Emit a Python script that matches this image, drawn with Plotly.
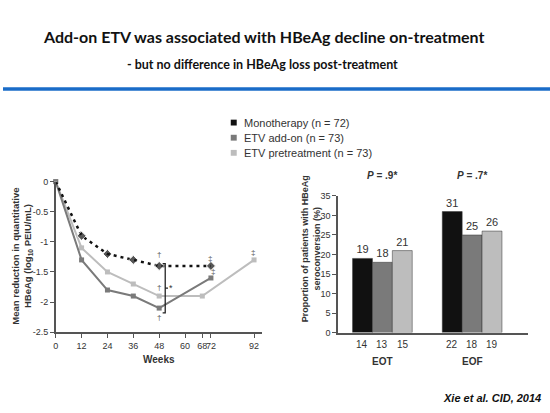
import plotly.graph_objects as go

# ---------------- data ----------------
weeks_mono = [0, 12, 24, 36, 48, 72]
mono = [0, -0.9, -1.2, -1.3, -1.4, -1.4]
weeks_add = [0, 12, 24, 36, 48, 72]
addon = [0, -1.3, -1.8, -1.9, -2.1, -1.6]
weeks_pre = [0, 12, 24, 36, 48, 68, 92]
pre = [0, -1.1, -1.5, -1.7, -1.9, -1.9, -1.3]

series_names = ["Monotherapy (n = 72)", "ETV add-on (n = 73)", "ETV pretreatment (n = 73)"]
x_ticks = [0, 12, 24, 36, 48, 60, 68, 72, 92]
y_ticks = [0, -0.5, -1, -1.5, -2, -2.5]
y_tick_text = ["0", "-0.5", "-1", "-1.5", "-2", "-2.5"]

groups = ["EOT", "EOF"]
bar_mono = [19, 31]
bar_add = [18, 25]
bar_pre = [21, 26]
n_mono = [14, 22]
n_add = [13, 18]
n_pre = [15, 19]
p_labels = ["<i>P</i> = .9*", "<i>P</i> = .7*"]
bar_ticks = [0, 5, 10, 15, 20, 25, 30, 35]

# ---------------- styling ----------------
W, H = 550, 413
C_MONO, C_ADD, C_PRE = "#111111", "#7a7a7a", "#bdbdbd"
COLORS = [C_MONO, C_ADD, C_PRE]
FONT = "Liberation Sans"
TXT = "#333333"


def px(x):
    return x / W


def py(y):
    return 1 - y / H


def note(x, y, text, size=10, color=TXT, family=FONT, xref="paper", yref="paper", **kw):
    d = dict(x=x, y=y, xref=xref, yref=yref, text=text, showarrow=False,
             xanchor=kw.pop("xanchor", "center"), yanchor=kw.pop("yanchor", "middle"),
             font=dict(size=size, color=color, family=family))
    d.update(kw)
    return d


fig = go.Figure()

# left chart lines
fig.add_trace(go.Scatter(x=weeks_pre, y=pre, mode="lines+markers", cliponaxis=False,
                         line=dict(color=C_PRE, width=2),
                         marker=dict(symbol="square", size=5, color=C_PRE),
                         name=series_names[2], showlegend=False))
fig.add_trace(go.Scatter(x=weeks_add, y=addon, mode="lines+markers", cliponaxis=False,
                         line=dict(color=C_ADD, width=2),
                         marker=dict(symbol="square", size=5, color=C_ADD),
                         name=series_names[1], showlegend=False))
fig.add_trace(go.Scatter(x=weeks_mono, y=mono, mode="lines+markers", cliponaxis=False,
                         line=dict(color=C_MONO, width=2.5, dash="3px,4px"),
                         marker=dict(symbol="diamond", size=[1, 7, 7, 7, 7, 7], color=C_MONO),
                         name=series_names[0], showlegend=False))

# right chart bars
bar_w_px = 20.2
for vals, col, nm in zip([bar_mono, bar_add, bar_pre], COLORS, series_names):
    fig.add_trace(go.Bar(x=groups, y=vals, xaxis="x2", yaxis="y2", marker_color=col,
                         marker_line=dict(color="#333333", width=0.5), name=nm,
                         text=[str(v) for v in vals], textposition="outside",
                         textfont=dict(size=11, color=TXT, family=FONT),
                         cliponaxis=False, showlegend=False))

annotations = []
shapes = []

# legend (compact, like the reference)
for i, (nm, col) in enumerate(zip(series_names, COLORS)):
    yc = 120.5 + i * 15.5
    shapes.append(dict(type="rect", xref="paper", yref="paper",
                       x0=px(229), x1=px(235), y0=py(yc + 3), y1=py(yc - 3),
                       fillcolor=col, line=dict(width=0)))
    annotations.append(note(px(240), py(yc), nm, size=11, xanchor="left"))

# dagger / double-dagger marks
marks = [
    (48, mono[4] + 0.19, "†"),
    (48, pre[4] + 0.15, "†"),
    (48, addon[4] - 0.15, "†"),
    (71.4, mono[5] + 0.13, "‡"),
    (72.8, addon[5] + 0.11, "‡"),
    (91.3, pre[6] + 0.13, "‡"),
]
for x, y, t in marks:
    annotations.append(note(x, y, t, size=8, color="#555555", xref="x", yref="y"))
annotations.append(note(53.4, (mono[4] + addon[4]) / 2 - 0.02, "*", size=9,
                        xref="x", yref="y"))

# bar n labels and group labels
for i, g in enumerate(groups):
    for j, n in enumerate([n_mono[i], n_add[i], n_pre[i]]):
        annotations.append(note(g, py(348), str(n), xref="x2", xshift=(j - 1) * bar_w_px))
    annotations.append(note(g, py(365.5), "<b>%s</b>" % g, xref="x2"))
    annotations.append(note(g, py(175), "<b>%s</b>" % p_labels[i], xref="x2"))

# axis titles
annotations.append(note(px(19), py(257),
                        "<b>Mean reduction in quantitative<br>HBeAg (log<sub>10</sub> PEIU/mL)</b>",
                        size=9.5, textangle=-90))
annotations.append(note(px(157), py(363), "<b>Weeks</b>"))
annotations.append(note(px(310), py(250),
                        "<b>Proportion of patients with HBeAg<br>seroconversion (%)</b>",
                        size=9, textangle=-90))

# titles
annotations.append(note(px(262), py(32),
                        "<b>Add-on ETV was associated with HBeAg decline on-treatment</b>",
                        size=16, color="#111", family="Lato"))
annotations.append(note(px(261), py(61),
                        "<b>- but no difference in HBeAg loss post-treatment</b>",
                        size=12.5, color="#111", family="Lato"))
annotations.append(note(px(543), py(403), "<b><i>Xie et al. CID, 2014</i></b>",
                        size=11, color="#111", xanchor="right"))

# separator line and week-48 bracket
bx = 50.8
btop = mono[4] + 0.04
bbot = addon[4] - 0.08
bmid = (mono[4] + addon[4]) / 2 - 0.02
shapes += [
    dict(type="line", xref="paper", yref="paper", x0=0, x1=1, y0=py(86), y1=py(86),
         line=dict(color="#1a6cc8", width=3.5)),
    dict(type="path", xref="x", yref="y",
         path=f"M {bx-1.2},{btop} L {bx},{btop} L {bx},{bbot} L {bx-1.2},{bbot}",
         line=dict(color="#222", width=1.3)),
    dict(type="line", xref="x", yref="y", x0=bx, x1=bx + 1.3, y0=bmid, y1=bmid,
         line=dict(color="#222", width=1.3)),
]

axis_common = dict(showline=True, linecolor="#555", linewidth=1.5, ticks="outside",
                   ticklen=4, tickcolor="#555", showgrid=False, zeroline=False,
                   tickangle=0, tickfont=dict(size=9, color=TXT, family=FONT))

fig.update_layout(
    width=W, height=H, margin=dict(l=0, r=0, t=0, b=0),
    paper_bgcolor="white", plot_bgcolor="white", showlegend=False,
    font=dict(family=FONT, color=TXT),
    xaxis=dict(domain=[px(53), px(260)], range=[0, 95.5], tickvals=x_ticks, anchor="y",
               **axis_common),
    yaxis=dict(domain=[py(335.3), py(181)], range=[-2.5, 0], tickvals=y_ticks,
               ticktext=y_tick_text, anchor="x", **axis_common),
    xaxis2=dict(domain=[px(337), px(528)], range=[-0.493, 1.624], type="category",
                showticklabels=False, showline=True, linecolor="#555", linewidth=1.5,
                ticks="", showgrid=False, zeroline=False, anchor="y2"),
    yaxis2=dict(domain=[py(335.7), py(195.7)], range=[0, 35], tickvals=bar_ticks,
                anchor="x2", **axis_common),
    barmode="group", bargap=0.335, bargroupgap=0,
    annotations=annotations, shapes=shapes,
)

fig.write_html("out.html", config={"displayModeBar": False},
               post_script="document.body.style.margin='0px';"
                           "document.body.style.overflow='hidden';")
